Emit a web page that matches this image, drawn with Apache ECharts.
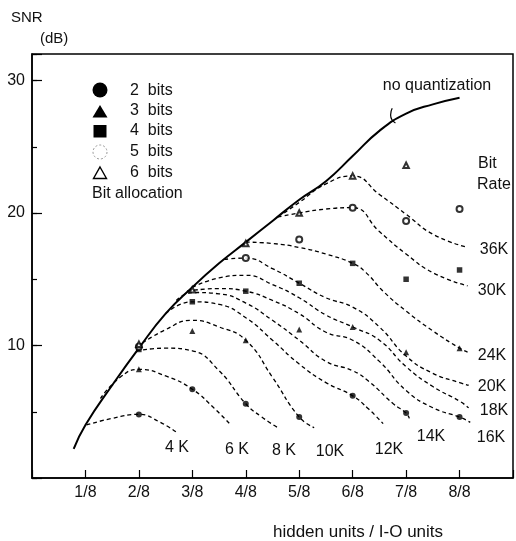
<!DOCTYPE html>
<html><head><meta charset="utf-8">
<script src="https://cdn.jsdelivr.net/npm/echarts@6/dist/echarts.min.js"></script>
<style>html,body{margin:0;padding:0;background:#fff}#c{width:516px;height:541px}</style>
</head><body><div id="c"></div>
<script>
// ---- data (x in eighths of hidden/I-O units, y = SNR dB) ----
const xTickLabels = ['1/8','2/8','3/8','4/8','5/8','6/8','7/8','8/8'];
const yTickLabels = [10, 20, 30];

const noQuant = [[0.78,2.2],[1,4.0],[1.5,7.0],[2,9.8],[2.5,12.4],[3,14.4],[3.5,16.2],[4,17.8],[4.5,19.4],[5,21.0],[5.5,22.4],[6,24.3],[6.5,26.2],[7,27.5],[7.5,28.2],[8,28.7]];

const rate4K  = [[1.02,4.0],[1.5,4.5],[2,4.8],[2.4,4.2],[2.72,3.4]];
const rate6K  = [[1.28,6.0],[1.65,7.6],[2,8.2],[2.5,7.7],[3,6.7],[3.4,5.3],[3.72,4.0]];
const rate8K  = [[1.95,9.6],[2.5,9.8],[3,9.6],[3.5,8.1],[4,5.6],[4.3,4.6],[4.6,3.8]];
const rate10K = [[1.96,9.9],[2.5,11.2],[3,11.9],[3.5,11.4],[4,10.4],[4.5,7.6],[5,4.6],[5.28,3.8]];
const rate12K = [[2.5,12.4],[3,13.3],[3.5,13.1],[4,12.1],[4.5,10.4],[5,8.6],[5.5,7.2],[6,6.2],[6.3,5.2],[6.57,4.1]];
const rate14K = [[2.7,13.4],[3,14.0],[3.5,13.9],[4,13.2],[4.5,11.9],[5,10.4],[5.5,8.8],[6,8.1],[6.3,7.3],[6.76,5.6],[7,4.9],[7.06,4.5]];
const rate16K = [[2.9,14.1],[3.5,14.3],[4,14.1],[4.5,13.4],[5,12.4],[5.5,11.0],[6,10.4],[6.5,8.8],[7,6.6],[7.5,5.3],[8,4.6],[8.2,4.2]];
const rate18K = [[3,14.4],[3.5,15.1],[4,15.3],[4.5,14.6],[5,13.6],[5.5,12.3],[6,11.4],[6.5,10.4],[7,8.4],[7.5,6.9],[8,5.8],[8.17,5.3]];
const rate20K = [[3.6,16.5],[4,16.6],[4.5,15.8],[5,14.7],[5.5,13.6],[6,12.9],[6.5,11.4],[7,9.2],[7.5,7.9],[8,7.2],[8.17,7.0]];
const rate24K = [[4,17.8],[4.5,17.7],[5,17.4],[5.5,16.9],[6,16.2],[6.25,15.5],[6.57,14.1],[7,12.6],[7.5,11.1],[8,9.8],[8.15,9.5]];
const rate30K = [[4.6,19.7],[5,20.0],[5.5,20.3],[6,20.4],[6.5,18.6],[7,16.9],[7.5,15.5],[8.15,14.5]];
const rate36K = [[4.72,20.0],[5,20.8],[5.5,22.2],[6,22.8],[6.5,21.4],[7,19.9],[7.5,18.4],[8.15,17.4]];

const bits2 = [[2,4.8],[3,6.7],[4,5.6],[5,4.6],[6,6.2],[7,4.9],[8,4.6]];
const bits3 = [[2,8.2],[3,11.1],[4,10.4],[5,11.2],[6,11.4],[7,9.5],[8,9.8]];
const bits4 = [[2,9.7],[3,13.3],[4,14.1],[5,14.7],[6,16.2],[7,15.0],[8,15.7]];
const bits5 = [[2,9.9],[4,16.6],[5,18.0],[6,20.4],[7,19.4],[8,20.3]];
const bits6 = [[2,10.1],[3,14.2],[4,17.7],[5,20.0],[6,22.8],[7,23.6]];

const pointerArc = [[6.74,27.9],[6.71,27.4],[6.80,26.8]];

const rateNames = ['4 K','6 K','8 K','10K','12K','14K','16K','18K','20K','24K','30K','36K'];
const rateData = [rate4K,rate6K,rate8K,rate10K,rate12K,rate14K,rate16K,rate18K,rate20K,rate24K,rate30K,rate36K];

// ---- layout (pixels) ----
const FONT = "'Liberation Sans', Arial, sans-serif";
const INK = '#111';
const rateLabelPos = [[177,448],[237,450],[284,451],[330,452],[389,450],[431,437],[491,438],[494,411],[492,387],[492,356],[492,291],[494,250]];

const chart = echarts.init(document.getElementById('c'));

const series = [];
rateData.forEach((d,i)=>{
  series.push({name:rateNames[i], type:'line', data:d, smooth:0.5,
    symbol:'none', silent:true, z:2,
    lineStyle:{color:'#000', width:1.3, type:[4,3]}});
});
series.push({name:'no quantization', type:'line', data:noQuant, smooth:0.5,
  symbol:'none', silent:true, z:4, lineStyle:{color:'#000', width:2}});
series.push({name:'pointer', type:'line', data:pointerArc, smooth:0.6,
  symbol:'none', silent:true, z:4, lineStyle:{color:'#000', width:1.2}});
const mk = (name, data, symbol, size, style) => ({name, type:'scatter', data, symbol, symbolSize:size, silent:true, z:5, itemStyle:style});
series.push(mk('2 bits', bits2, 'circle', 6, {color:'#000'}));
series.push(mk('3 bits', bits3, 'triangle', 6, {color:'#000'}));
series.push(mk('4 bits', bits4, 'rect', 5.5, {color:'#000'}));
series.push(mk('5 bits', bits5, 'emptyCircle', 6, {color:'#000', borderColor:'#000', borderWidth:1.6}));
series.push(mk('6 bits', bits6, 'emptyTriangle', 5.5, {color:'#000', borderColor:'#000', borderWidth:1.8}));

const graphic = [];
const txt = (t,x,y,align,size) => ({type:'text', x, y, silent:true, z:10,
  style:{text:t, fill:INK, font:(size||16)+'px '+FONT, align:align||'center', verticalAlign:'middle'}});
rateNames.forEach((n,i)=> graphic.push(txt(n, rateLabelPos[i][0], rateLabelPos[i][1], 'center')));
graphic.push(txt('Bit', 478, 164, 'left'));
graphic.push(txt('Rate', 477, 185, 'left'));
graphic.push(txt('no quantization', 437, 86, 'center'));
graphic.push(txt('SNR', 11, 18, 'left', 15));
graphic.push(txt('(dB)', 40, 39, 'left', 15));
graphic.push(txt('hidden units / I-O units', 358, 532, 'center', 17));
// legend
graphic.push({type:'circle', shape:{cx:100, cy:90, r:7.5}, style:{fill:'#000'}, silent:true});
graphic.push({type:'polygon', shape:{points:[[100,105],[107.5,117.5],[92.5,117.5]]}, style:{fill:'#000'}, silent:true});
graphic.push({type:'rect', shape:{x:93.5, y:125, width:13, height:12.5}, style:{fill:'#000'}, silent:true});
graphic.push({type:'circle', shape:{cx:100, cy:152, r:7}, style:{fill:'none', stroke:'#999', lineWidth:1, lineDash:[2,2]}, silent:true});
graphic.push({type:'polygon', shape:{points:[[100,167],[106.5,178.5],[93.5,178.5]]}, style:{fill:'none', stroke:'#000', lineWidth:1.4}, silent:true});
['2  bits','3  bits','4  bits','5  bits','6  bits'].forEach((t,i)=> graphic.push(txt(t, 130, [91,111,131,152,173][i], 'left')));
graphic.push(txt('Bit allocation', 92, 194, 'left'));

chart.setOption({
  animation:false,
  backgroundColor:'#fff',
  grid:{left:32, right:1, top:54, bottom:63, show:true, borderColor:'#000', borderWidth:1.5, backgroundColor:'transparent'},
  xAxis:{type:'value', min:0, max:9, interval:1,
    axisLine:{show:true, lineStyle:{color:'#000', width:1.5}},
    axisTick:{show:true, inside:true, length:8, lineStyle:{color:'#000', width:1.2}},
    axisLabel:{margin:7, color:INK, fontSize:16, fontFamily:FONT,
      formatter:v=> (v>=1 && v<=8) ? xTickLabels[v-1] : ''},
    splitLine:{show:false}},
  yAxis:[
    {type:'value', min:0, max:32, interval:10,
     axisLine:{show:true, lineStyle:{color:'#000', width:1.5}},
     axisTick:{show:true, inside:true, length:10, lineStyle:{color:'#000', width:1.2}},
     axisLabel:{margin:7, color:INK, fontSize:16, fontFamily:FONT,
       formatter:v=> yTickLabels.indexOf(v)>=0 ? String(v) : ''},
     splitLine:{show:false}},
    {type:'value', min:0, max:32, interval:5, position:'left',
     axisLine:{show:false},
     axisTick:{show:true, inside:true, length:5, lineStyle:{color:'#000', width:1.2}},
     axisLabel:{show:false}, splitLine:{show:false}}
  ],
  series,
  graphic
});
</script></body></html>
